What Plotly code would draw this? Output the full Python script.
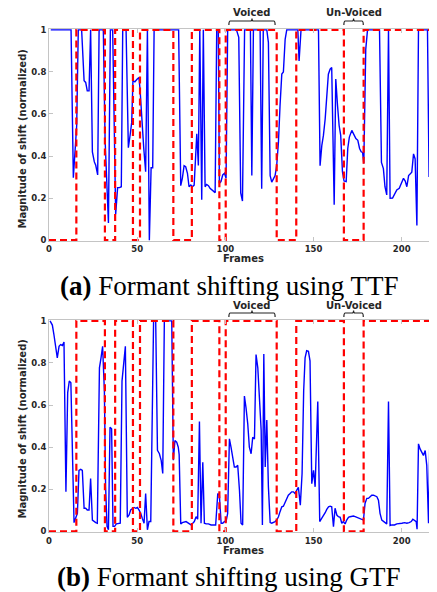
import plotly.graph_objects as go

# ---------------- data ----------------
# Voiced / unvoiced decision (square wave): transition frames and levels
vuv_frames = [0, 15.5, 31.7, 37.5, 47.6, 51.6, 70.5, 81.0, 96.6, 100.2, 129.1, 140.2, 167.2, 178.4, 220]
vuv_levels = [0, 1, 0, 1, 0, 1, 0, 1, 0, 1, 0, 1, 0, 1, 1]

# (a) Formant shifting using TTF
ttf_frames = [1, 12.5, 13.8, 14.7, 15.7, 16.6, 18.5, 19.9, 20.8, 21.7, 22.7, 23.6, 24.6, 25.7, 26.5, 27.6,
              28.4, 30.8, 31.8, 33.7, 34.8, 36.1, 37.8, 38.9, 40.0, 41.0, 41.8, 43.7, 45.0, 46.0, 46.9,
              47.6, 48.7, 49.9, 51.0, 51.6, 52.6, 53.7, 54.8, 55.8, 56.9, 57.9, 58.8, 59.6, 73.5, 74.7,
              75.6, 76.6, 77.5, 78.5, 79.4, 80.4, 81.3, 82.3, 83.8, 84.7, 85.5, 86.6, 87.5, 88.5, 89.4,
              90.4, 91.3, 92.3, 93.2, 94.2, 95.1, 96.0, 96.6, 97.5, 98.5, 99.5, 100.4, 101.3, 106.3,
              107.6, 108.7, 109.7, 110.9, 114.2, 115.0, 115.9, 119.7, 120.6, 121.5, 123.5, 124.4, 125.4,
              126.3, 127.3, 128.2, 129.1, 130.1, 131.0, 132.0, 132.9, 133.9, 134.8, 141.1, 141.8, 142.9,
              152.8, 153.7, 154.7, 155.6, 156.6, 157.5, 158.4, 159.4, 160.3, 161.7, 162.6, 163.6, 164.5,
              165.4, 166.4, 167.3, 168.5, 169.4, 170.3, 171.7, 172.8, 174.0, 175.1, 176.1, 177.0, 177.8,
              178.5, 179.6, 180.6, 187.4, 188.5, 189.6, 190.5, 191.5, 192.5, 193.4, 194.8, 195.9, 197.2,
              198.6, 199.7, 201.0, 202.0, 202.9, 203.9, 204.8, 205.7, 206.7, 207.6, 208.6, 209.5, 214.6,
              215.5, 216.5, 217.2, 218.0, 218.6, 219.5, 220.0]
ttf_values = [1, 1, 0.297, 0.40, 0.545, 1, 1, 0.758, 0.75, 0.71, 0.71, 1, 0.42, 0.372, 0.356, 0.31,
              1, 1, 0.48, 0.082, 1, 1, 0.124, 0.25, 0.25, 0.254, 1, 1, 0.44, 0.5, 0.56,
              0.758, 0.753, 0.765, 0.773, 0.72, 0.56, 0.44, 0.325, 1, 0.0, 0.344, 0.344, 1, 1, 0.259,
              0.294, 0.354, 0.349, 0.318, 0.254, 0.262, 0.254, 0.262, 0.506, 0.355, 1, 0.192, 1, 0.254, 0.265,
              0.259, 0.247, 0.239, 0.231, 0.226, 1, 1, 0.27, 0.278, 0.31, 0.318, 0.294, 1, 1,
              0.964, 0.225, 0.186, 1, 1, 0.307, 1, 1, 0.244, 1, 1, 0.94, 0.307,
              0.276, 0.29, 0.307, 0.354, 0.467, 0.64, 0.79, 0.8, 0.955, 1, 1, 0.852, 1,
              1, 0.354, 0.451, 0.498, 0.577, 0.703, 0.789, 0.813, 0.821, 0.168, 0.766, 0.64, 0.545,
              0.498, 0.325, 0.281, 0.278, 0.436, 0.49, 0.522, 0.506, 0.483, 0.475, 0.436, 0.42, 0.417,
              0.365, 0.907, 1, 1, 0.37, 0.34, 0.254, 0.215, 1, 0.199, 0.2, 0.22, 0.239,
              0.247, 0.27, 0.294, 0.281, 0.254, 0.307, 0.315, 0.323, 0.41, 0.386, 0.07, 1, 1,
              0.3, 1, 1, 0.113, 0.152, 0.136, 0.14]

# (b) Formant shifting using GTF
gtf_frames = [0.6, 1.9, 2.8, 4.7, 5.7, 6.6, 7.6, 8.5, 9.6, 10.6, 11.5, 12.4, 14.2, 15.2, 16.1, 17.0,
              18.0, 18.9, 19.9, 20.8, 21.7, 22.7, 23.6, 24.6, 25.5, 26.5, 27.4, 28.6, 29.5, 30.4, 31.4,
              32.1, 32.9, 33.7, 34.6, 35.5, 36.3, 37.2, 38.2, 39.3, 40.4, 41.4, 42.4, 43.3, 44.4, 45.4,
              46.3, 47.3, 48.2, 49.2, 50.1, 51.0, 52.0, 52.9, 53.9, 54.8, 55.8, 56.7, 57.7, 59.3, 60.5,
              61.5, 62.6, 63.6, 64.5, 65.4, 69.6, 70.5, 71.4, 72.4, 73.3, 73.8, 74.7, 75.6, 76.8, 77.7,
              78.6, 79.6, 80.5, 81.5, 82.4, 83.4, 84.3, 85.3, 86.2, 87.2, 88.1, 89.1, 90.4, 91.9, 93.2,
              94.5, 95.7, 96.6, 97.6, 98.5, 99.5, 100.4, 101.3, 102.3, 103.2, 104.2, 105.1, 106.1, 107.0,
              108.0, 108.9, 109.8, 110.8, 111.7, 112.7, 113.6, 114.6, 115.5, 116.5, 117.4, 118.4, 119.3,
              120.3, 121.0, 121.8, 122.6, 123.5, 124.4, 125.4, 126.3, 127.3, 128.2, 129.1, 130.1, 131.0,
              132.0, 132.9, 133.9, 134.8, 135.7, 136.7, 137.6, 138.6, 139.5, 140.5, 141.4, 142.5, 143.5,
              144.4, 145.2, 146.1, 147.1, 148.0, 149.0, 150.0, 150.9, 152.4, 153.5, 154.6, 155.6, 156.6,
              157.5, 158.5, 159.4, 160.3, 161.3, 162.2, 163.2, 164.1, 165.1, 166.0, 166.9, 167.9, 168.8,
              169.8, 170.7, 171.7, 172.6, 173.6, 174.5, 175.5, 176.4, 177.3, 178.3, 179.2, 180.2, 181.1,
              182.1, 183.0, 184.0, 184.9, 185.9, 186.8, 187.7, 188.7, 189.6, 190.6, 191.5, 192.5, 193.4,
              194.4, 195.9, 197.2, 198.6, 200.1, 201.6, 202.9, 204.2, 205.4, 206.3, 207.3, 208.2, 208.7,
              209.5, 210.4, 211.4, 212.3, 213.3, 214.2, 215.2, 216.5, 217.6, 218.6, 219.5, 220.0]
gtf_values = [1, 0.98, 0.934, 0.824, 0.879, 0.887, 0.883, 0.899, 0.188, 0.659, 0.714, 0.706, 0.042, 0.062, 0.086, 0.29,
              0.295, 0.29, 0.11, 0.11, 0.102, 0.102, 0.251, 0.054, 0.047, 0.042, 0.039, 0.777, 0.824, 0.879, 0.667,
              0.212, 0.024, 0.008, 0.495, 0.487, 0.024, 0.024, 0.036, 0.036, 0.039, 0.714, 0.816, 0.879, 0.067, 0.078,
              0.102, 0.11, 0.114, 0.11, 0.114, 0.102, 0.086, 0.062, 0.039, 0.18, 0.008, 0.047, 0.047, 1, 1,
              0.385, 0.369, 0.338, 0.275, 1, 1, 0.338, 0.432, 0.424, 0.4, 0.365, 0.036, 0.042, 0.047, 0.047,
              0.042, 0.036, 0.031, 0.039, 0.047, 0.07, 0.058, 0.522, 0.039, 0.329, 0.039, 0.036, 0.036, 0.031, 0.031,
              0.031, 0.18, 0.172, 0.039, 0.039, 0.047, 0.047, 0.086, 0.44, 0.4, 0.338, 0.306, 0.306, 0.314,
              0.196, 0.039, 0.031, 0.643, 0.588, 0.51, 0.4, 0.369, 0.447, 0.439, 0.84, 0.777, 0.636,
              0.479, 0.031, 0.843, 0.306, 0.529, 0.212, 0.042, 0.039, 0.042, 0.047, 0.054, 0.07, 0.094,
              0.117, 0.12, 0.141, 0.157, 0.172, 0.18, 0.188, 0.188, 0.18, 0.196, 0.209, 0.125, 0.275,
              0.667, 0.824, 0.858, 0.855, 0.81, 0.227, 0.29, 0.212, 0.617, 0.047, 0.062, 0.073, 0.089,
              0.105, 0.117, 0.12, 0.117, 0.023, 0.11, 0.078, 0.07, 0.067, 0.039, 0.047, 0.036, 0.054,
              0.067, 0.07, 0.073, 0.073, 0.07, 0.067, 0.062, 0.058, 0.054, 0.054, 0.133, 0.157, 0.157,
              0.165, 0.172, 0.172, 0.168, 0.165, 0.149, 0.086, 0.054, 0.047, 0.039, 0.036, 0.617, 0.028,
              0.031, 0.031, 0.036, 0.036, 0.039, 0.042, 0.039, 0.042, 0.047, 0.058, 0.051, 0.047, 0.011,
              0.416, 0.392, 0.377, 0.361, 0.384, 0.314, 0.039, 0.755, 0.039, 0.042, 0.541, 0.71]

x_ticks = [0, 50, 100, 150, 200]
y_ticks = [0, 0.2, 0.4, 0.6, 0.8, 1]
y_tick_labels = ["0", "0.2", "0.4", "0.6", "0.8", "1"]

voiced_span = [102.0, 128.2]
unvoiced_span = [167.2, 178.2]

captions = ["<b>(a)</b> Formant shifting using TTF", "<b>(b)</b> Formant shifting using GTF"]
x_title = "Frames"
y_title = "Magnitude of shift (normalized)"

# ---------------- figure ----------------
# the page body has an 8 px margin, so the figure is sized/offset to fill the 437x592 window
OFF = 8
W, H = 437 - OFF, 592 - OFF
PLOT_LEFT = 49 - OFF


def yp(py):
    """window pixel row -> paper y"""
    return 1 - (py - OFF) / H


def xp(px):
    """window pixel column -> paper x"""
    return (px - OFF - PLOT_LEFT) / (W - PLOT_LEFT)


fig = go.Figure()

panels = [
    dict(fr=ttf_frames, val=ttf_values, xa="x", ya="y"),
    dict(fr=gtf_frames, val=gtf_values, xa="x2", ya="y2"),
]

for p in panels:
    fig.add_trace(go.Scatter(x=p["fr"], y=p["val"], mode="lines",
                             line=dict(color="#0000ff", width=1.4),
                             xaxis=p["xa"], yaxis=p["ya"], showlegend=False))
    fig.add_trace(go.Scatter(x=vuv_frames, y=vuv_levels, mode="lines", line_shape="hv",
                             line=dict(color="#ff0000", width=2.2, dash="7px,4px"),
                             xaxis=p["xa"], yaxis=p["ya"], showlegend=False))

tickfont = dict(family="DejaVu Sans", size=8.5, color="#262626", weight="bold")
axis_common = dict(showline=True, linecolor="#c4c4c4", linewidth=1, ticks="inside", ticklen=4,
                   tickcolor="#c4c4c4", showgrid=False, zeroline=False, tickfont=tickfont,
                   automargin=False)

fig.update_layout(
    width=W, height=H,
    margin=dict(l=PLOT_LEFT, r=0, t=0, b=0, autoexpand=False),
    plot_bgcolor="white", paper_bgcolor="white",
    xaxis=dict(domain=[0, 1], range=[0, 220], tickvals=x_ticks, mirror="ticks", anchor="y", **axis_common),
    yaxis=dict(domain=[yp(241), yp(29)], range=[-0.004, 1.004], tickvals=y_ticks, ticktext=y_tick_labels,
               anchor="x", **axis_common),
    xaxis2=dict(domain=[0, 1], range=[0, 220], tickvals=x_ticks, mirror="ticks", anchor="y2", **axis_common),
    yaxis2=dict(domain=[yp(532.3), yp(320)], range=[-0.004, 1.004], tickvals=y_ticks, ticktext=y_tick_labels,
                anchor="x2", **axis_common),
)

lab_font = dict(family="DejaVu Sans", size=10, color="#262626", weight="bold")
cap_font = dict(family="Liberation Serif", size=27, color="#000000")

annotations = []
shapes = []
for i, (p, frames_y, ytitle_y, cap_y, brace_top, text_y) in enumerate([
        (panels[0], 258.5, 139, 286, 21, 13),
        (panels[1], 550, 429, 577, 313, 305)]):
    xr = p["xa"]
    annotations.append(dict(text=x_title, xref="paper", yref="paper", x=xp(243), y=yp(frames_y),
                            showarrow=False, font=lab_font, xanchor="center", yanchor="middle"))
    annotations.append(dict(text=y_title, xref="paper", yref="paper", x=xp(21.5),
                            y=yp(ytitle_y), textangle=-90, showarrow=False, font=lab_font,
                            xanchor="center", yanchor="middle"))
    annotations.append(dict(text=captions[i], xref="paper", yref="paper", x=xp(229),
                            y=yp(cap_y), showarrow=False, font=cap_font,
                            xanchor="center", yanchor="middle"))
    for label, span in (("Voiced", voiced_span), ("Un-Voiced", unvoiced_span)):
        x0, x1 = span
        xm = (x0 + x1) / 2
        annotations.append(dict(text=label, xref=xr, yref="paper", x=xm, y=yp(text_y),
                                showarrow=False, font=lab_font, xanchor="center", yanchor="middle"))
        yt, yb, ypk = yp(brace_top), yp(brace_top + 4), yp(brace_top - 2.5)
        d = 0.8
        path = (f"M {x0},{yb} Q {x0},{yt} {x0 + d},{yt} L {xm - d},{yt} Q {xm},{yt} {xm},{ypk} "
                f"Q {xm},{yt} {xm + d},{yt} L {x1 - d},{yt} Q {x1},{yt} {x1},{yb}")
        shapes.append(dict(type="path", xref=xr, yref="paper", path=path,
                           line=dict(color="#222222", width=1.2)))

fig.update_layout(annotations=annotations, shapes=shapes)

fig.write_html("out.html")
